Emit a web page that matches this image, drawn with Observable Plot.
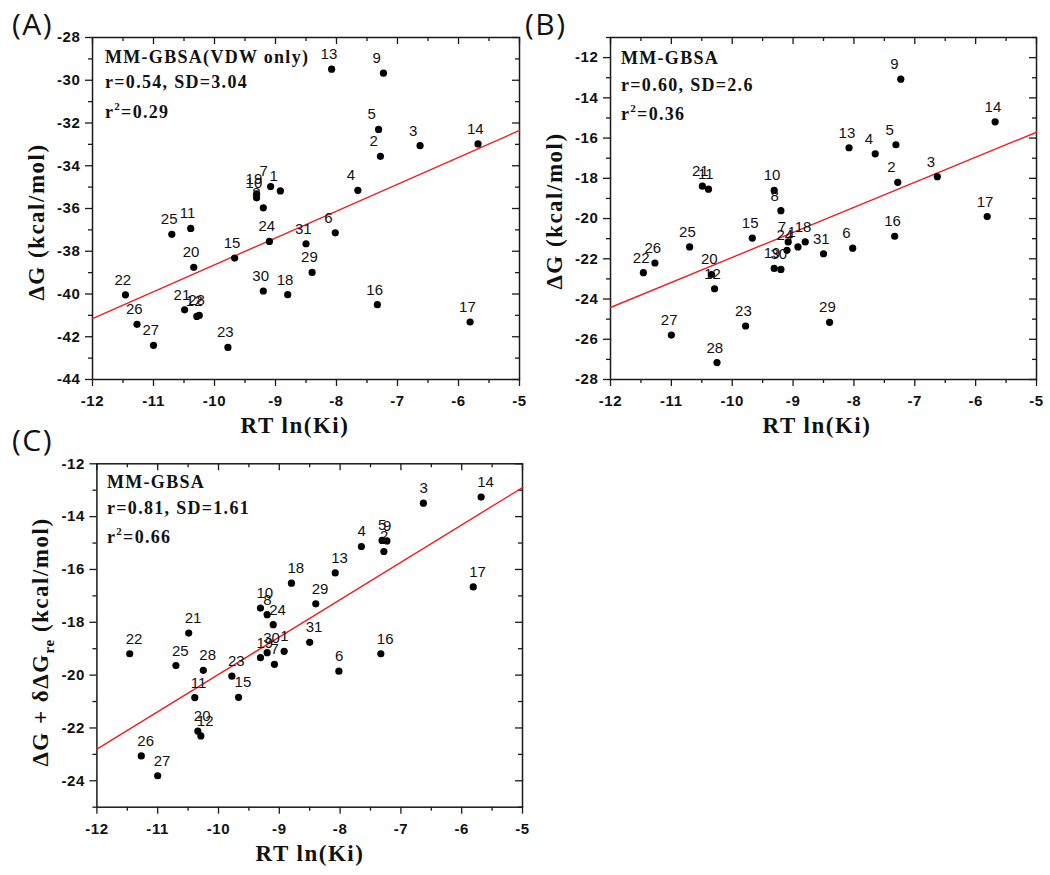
<!DOCTYPE html>
<html><head><meta charset="utf-8">
<script src="https://cdn.jsdelivr.net/npm/d3@7"></script>
<script src="https://cdn.jsdelivr.net/npm/@observablehq/plot@0.6"></script>
<style>
body{margin:0;background:#fff;}
#root{position:relative;width:1050px;height:875px;overflow:hidden;background:#fff;}
#root svg{position:absolute;overflow:visible;}
</style></head>
<body><div id="root"></div>
<script>
// ---------------- data ----------------
const ids = d3.range(1, 32);
const rtLnKi = [-8.92,-7.28,-6.63,-7.65,-7.31,-8.02,-9.08,-9.20,-7.23,-9.31,-10.39,-10.29,-8.08,-5.68,-9.67,-7.33,-5.81,-8.80,-9.31,-10.34,-10.49,-11.46,-9.78,-9.10,-10.70,-11.27,-11.00,-10.25,-8.40,-9.20,-8.50];
const dgVdwOnly = [-35.18,-33.56,-33.06,-35.15,-32.30,-37.14,-34.97,-35.97,-29.67,-35.50,-36.93,-41.05,-29.48,-32.98,-38.32,-40.50,-41.31,-40.03,-35.32,-38.75,-40.74,-40.04,-42.50,-37.54,-37.21,-41.42,-42.40,-41.00,-38.99,-39.86,-37.65];
const dgGbsa = [-21.41,-18.20,-17.92,-16.78,-16.33,-21.47,-21.16,-19.61,-13.07,-18.60,-18.54,-23.49,-16.48,-15.19,-20.97,-20.88,-19.90,-21.16,-22.48,-22.78,-18.39,-22.69,-25.34,-21.58,-21.41,-22.21,-25.79,-27.16,-25.16,-22.53,-21.75];
const dgGbsaRe = [-19.10,-15.32,-13.49,-15.13,-14.90,-19.85,-19.59,-17.71,-14.92,-17.46,-20.85,-22.30,-16.13,-13.26,-20.84,-19.19,-16.66,-16.52,-19.34,-22.12,-18.41,-19.19,-20.04,-18.09,-19.64,-23.06,-23.81,-19.82,-17.30,-19.15,-18.76];
const fitX = [-12, -5];
const fitVdwOnly = [-41.15, -32.35];
const fitGbsa = [-24.42, -15.71];
const fitGbsaRe = [-22.80, -12.90];
const xTicks = [-12,-11,-10,-9,-8,-7,-6,-5];
const xMinor = [-11.5,-10.5,-9.5,-8.5,-7.5,-6.5,-5.5];
const yTicksA = [-44,-42,-40,-38,-36,-34,-32,-30,-28];
const yMinorA = [-43,-41,-39,-37,-35,-33,-31,-29];
const yTicksB = [-28,-26,-24,-22,-20,-18,-16,-14,-12];
const yMinorB = [-27,-25,-23,-21,-19,-17,-15,-13,-11];
const yTicksC = [-24,-22,-20,-18,-16,-14,-12];
const yMinorC = [-25,-23,-21,-19,-17,-15,-13];
const notesA = ["MM-GBSA(VDW only)", "r=0.54, SD=3.04", "0.29"];
const notesB = ["MM-GBSA", "r=0.60, SD=2.6", "0.36"];
const notesC = ["MM-GBSA", "r=0.81, SD=1.61", "0.66"];

const root = document.getElementById("root");
const INK = "#111";
const SANS = "Liberation Sans, Arial, sans-serif";
const SERIF = "Liberation Serif, Times New Roman, serif";

function panel(cfg) {
  const {left, top, width, height, m, yDomain, yMajor, yMinor, ys, fit, labelDx} = cfg;
  const plotW = width - m.left - m.right, plotH = height - m.top - m.bottom;
  const pts = ids.map((id, i) => ({id, x: rtLnKi[i], y: ys[i]}));
  const fitData = fitX.map((x, i) => ({x, y: fit[i]}));
  const tk = {stroke: "#1a1a1a", strokeWidth: 1.3};
  const tl = {fontSize: 15, fontWeight: "bold", fontFamily: SANS, fill: INK, text: d => String(d)};
  const svg = Plot.plot({
    width, height,
    marginLeft: m.left, marginRight: m.right, marginTop: m.top, marginBottom: m.bottom,
    x: {domain: [-12, -5], axis: null},
    y: {domain: yDomain, axis: null},
    style: {background: "transparent", overflow: "visible", color: INK, fontFamily: SANS},
    marks: [
      // bottom (outward) and top (inward) ticks
      Plot.tickX(xTicks, {x: d => d, insetTop: plotH, insetBottom: -7, ...tk}),
      Plot.tickX(xMinor, {x: d => d, insetTop: plotH, insetBottom: -4, ...tk}),
      Plot.tickX(xTicks, {x: d => d, insetTop: 0, insetBottom: plotH - 7, ...tk}),
      Plot.tickX(xMinor, {x: d => d, insetTop: 0, insetBottom: plotH - 4, ...tk}),
      // left (outward) and right (inward) ticks
      Plot.tickY(yMajor, {y: d => d, insetLeft: -7, insetRight: plotW, ...tk}),
      Plot.tickY(yMinor, {y: d => d, insetLeft: -4, insetRight: plotW, ...tk}),
      Plot.tickY(yMajor, {y: d => d, insetLeft: plotW - 7, insetRight: 0, ...tk}),
      Plot.tickY(yMinor, {y: d => d, insetLeft: plotW - 4, insetRight: 0, ...tk}),
      // tick labels
      Plot.text(xTicks, {x: d => d, frameAnchor: "bottom", lineAnchor: "top", dy: 16, ...tl}),
      Plot.text(yMajor, {y: d => d, frameAnchor: "left", textAnchor: "end", lineAnchor: "middle", dx: -12, ...tl}),
      Plot.frame({stroke: "#1a1a1a", strokeWidth: 1.5}),
      Plot.line(fitData, {x: "x", y: "y", stroke: "#ee1f25", strokeWidth: 1.4}),
      Plot.dot(pts, {x: "x", y: "y", r: 3.6, fill: "#000", stroke: "none"}),
      Plot.text(pts, {x: "x", y: "y", text: d => String(d.id), textAnchor: "start", lineAnchor: "bottom",
        dx: labelDx, dy: -10, fontSize: 15, fontFamily: SANS, fill: INK})
    ]
  });
  d3.select(svg).selectAll("text").filter(function () { return /^-\d+$/.test(this.textContent); })
    .style("letter-spacing", "0.6px");
  svg.style.left = left + "px";
  svg.style.top = top + "px";
  root.appendChild(svg);
}

panel({left: 0, top: 0, width: 525, height: 440, m: {left: 92, right: 6, top: 37, bottom: 61},
  yDomain: [-44, -28], yMajor: yTicksA, yMinor: yMinorA, ys: dgVdwOnly, fit: fitVdwOnly, labelDx: -11});
panel({left: 525, top: 0, width: 525, height: 440, m: {left: 85, right: 14, top: 37, bottom: 61},
  yDomain: [-28, -11], yMajor: yTicksB, yMinor: yMinorB, ys: dgGbsa, fit: fitGbsa, labelDx: -10.5});
panel({left: 0, top: 420, width: 525, height: 455, m: {left: 96.4, right: 3, top: 43.3, bottom: 68.3},
  yDomain: [-25, -12], yMajor: yTicksC, yMinor: yMinorC, ys: dgGbsaRe, fit: fitGbsaRe, labelDx: -4});

// --------- overlay: panel letters, titles, notes ---------
const ov = d3.select(root).append("svg")
  .attr("width", 1050).attr("height", 875)
  .style("left", "0px").style("top", "0px").style("pointer-events", "none");

function letter(t, x, y) {
  ov.append("text").attr("x", x).attr("y", y).text(t)
    .attr("font-family", "Open Sans, Noto Sans, sans-serif").attr("font-size", 30)
    .attr("letter-spacing", 1.5).attr("fill", INK);
}
letter("(A)", 12, 35); letter("(B)", 525, 35); letter("(C)", 12, 451);

function titleStyle(sel) {
  return sel.attr("font-family", SERIF).attr("font-weight", "bold").attr("font-size", 23)
    .attr("letter-spacing", 1.5).attr("fill", INK);
}
function xTitle(cx, by) {
  titleStyle(ov.append("text")).attr("x", cx).attr("y", by).attr("text-anchor", "middle").text("RT ln(Ki)");
}
xTitle(295, 433); xTitle(817, 433); xTitle(310, 861);

function yTitle(bx, cy, parts) {
  const t = titleStyle(ov.append("text")).attr("text-anchor", "middle")
    .attr("transform", `translate(${bx},${cy}) rotate(-90)`);
  parts.forEach(p => {
    const s = t.append("tspan").text(p.t);
    if (p.sub) s.attr("font-size", 15).attr("dy", 6).attr("letter-spacing", 0.5);
    if (p.back) s.attr("dy", -6);
  });
}
yTitle(44, 222, [{t: "ΔG (kcal/mol)"}]);
yTitle(562, 211, [{t: "ΔG (kcal/mol)"}]);
yTitle(48, 642, [{t: "ΔG + δΔG"}, {t: "re", sub: true}, {t: " (kcal/mol)", back: true}]);

function notes(lines, x, b1, b2, b3) {
  const st = s => s.attr("font-family", SERIF).attr("font-weight", "bold").attr("font-size", 18)
    .attr("letter-spacing", 1.3).attr("fill", INK);
  st(ov.append("text")).attr("x", x).attr("y", b1).text(lines[0]);
  st(ov.append("text")).attr("x", x).attr("y", b2).text(lines[1]);
  const t = st(ov.append("text")).attr("x", x).attr("y", b3);
  t.append("tspan").text("r");
  t.append("tspan").text("2").attr("font-size", 11).attr("dy", -8);
  t.append("tspan").text("=" + lines[2]).attr("dy", 8);
}
notes(notesA, 105, 63, 88, 118);
notes(notesB, 621, 64, 91, 120);
notes(notesC, 107, 488, 514, 543);
</script>
</body></html>
